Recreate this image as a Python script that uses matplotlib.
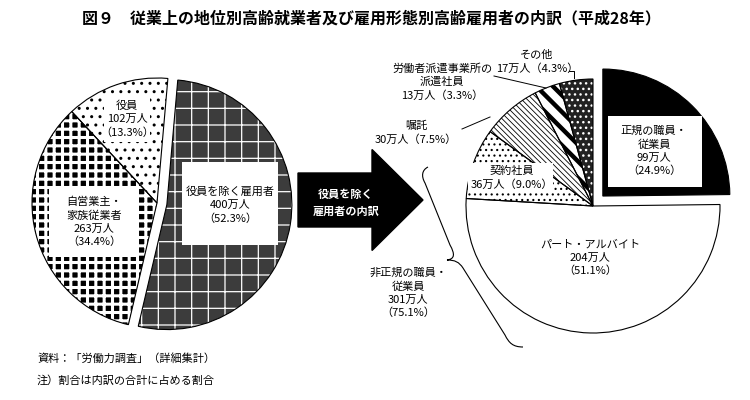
import matplotlib
matplotlib.use('Agg')
import matplotlib.pyplot as plt
from matplotlib.patches import Wedge, Rectangle, FancyArrow, PathPatch
from matplotlib.path import Path

plt.rcParams['font.family'] = ['Noto Sans CJK JP', 'DejaVu Sans']

# 従業上の地位別高齢就業者（万人, %）
status_labels = ['役員を除く雇用者', '自営業主・\n家族従業者', '役員']
status_values = [400, 263, 102]
status_pcts = [52.3, 34.4, 13.3]

# 雇用形態別高齢雇用者（万人, %）
emp_labels = ['正規の職員・\n従業員', 'パート・アルバイト', '契約社員', '嘱託',
              '労働者派遣事業所の\n派遣社員', 'その他']
emp_values = [99, 204, 36, 30, 13, 17]
emp_pcts = [24.9, 51.1, 9.0, 7.5, 3.3, 4.3]

nonreg_label = '非正規の職員・\n従業員'
nonreg_value = 301
nonreg_pct = 75.1

H = 400  # picture height, text positions below are given top-down


def Y(v):
    return H - v


fig = plt.figure(figsize=(7.5, 4), dpi=100)
ax = fig.add_axes([0, 0, 1, 1])


def restyle(w, face, hatch=None, hcolor='black', hlw=1.0):
    w.set_facecolor(face)
    if hatch:
        w.set_hatch(hatch)
        w.set_edgecolor(hcolor)
        if hasattr(w, 'set_hatch_linewidth'):
            w.set_hatch_linewidth(hlw)
    else:
        w.set_edgecolor('none')
    w.set_linewidth(0)
    ax.add_patch(Wedge(w.center, w.r, w.theta1, w.theta2, fill=False,
                       edgecolor='black', linewidth=0.8, zorder=2))


# left pie
left, _ = ax.pie(status_values, center=(157, Y(203)), radius=125, startangle=85,
                 counterclock=False, explode=[10, 0, 0])
restyle(left[0], '#3c3c3c', '+', 'white', 0.9)
restyle(left[1], 'black', '++', 'white', 2.2)
restyle(left[2], 'white', '..', 'black', 1.0)

# right pie
right, _ = ax.pie(emp_values, center=(593, Y(206)), radius=127, startangle=90,
                  counterclock=False, explode=[14, 0, 0, 0, 0, 0])
restyle(right[0], 'black')
restyle(right[1], 'white')
restyle(right[2], 'white', '...', 'black', 0.8)
restyle(right[3], 'white', '\\\\\\\\\\\\', 'black', 0.6)
restyle(right[4], 'white', '\\\\', 'black', 3.2)
restyle(right[5], '#222222', '...', 'white', 1.0)

ax.set_xlim(0, 750)
ax.set_ylim(0, H)
ax.axis('off')


def box(x0, y0, x1, y1):
    ax.add_patch(Rectangle((x0, Y(y1)), x1 - x0, y1 - y0, facecolor='white',
                           edgecolor='none', zorder=3))


def label(x, y, s, **kw):
    ax.text(x, Y(y), s, ha='center', va='center', fontsize=8, linespacing=1.35,
            zorder=4, **kw)


def amount(v, p, sep='\n'):
    return f'{v}万人{sep}（{p:.1f}%）'


# left pie labels
box(182, 162, 278, 245)
label(230, 205, status_labels[0] + '\n' + amount(status_values[0], status_pcts[0]))
box(49, 187, 138, 257)
label(94, 222, status_labels[1] + '\n' + amount(status_values[1], status_pcts[1]))
box(104, 96, 150, 142)
label(127, 119, status_labels[2] + '\n' + amount(status_values[2], status_pcts[2]))

# right pie labels
box(608, 116, 702, 187)
label(654, 151, emp_labels[0] + '\n' + amount(emp_values[0], emp_pcts[0]))
label(590, 258, emp_labels[1] + '\n' + amount(emp_values[1], emp_pcts[1]))
box(468, 163, 553, 193)
label(512, 178, emp_labels[2] + '\n' + amount(emp_values[2], emp_pcts[2], ''))
label(416, 133, emp_labels[3] + '\n' + amount(emp_values[3], emp_pcts[3], ''))
label(442, 82, emp_labels[4] + '\n' + amount(emp_values[4], emp_pcts[4], ''))
label(537, 62, emp_labels[5] + '\n' + amount(emp_values[5], emp_pcts[5], ''))
label(408, 293, nonreg_label + '\n' + amount(nonreg_value, nonreg_pct))

# leader lines
ax.plot([462, 490], [Y(129), Y(117)], color='black', lw=0.7)
ax.plot([494, 546], [Y(76), Y(88)], color='black', lw=0.7)
ax.plot([569, 574, 574], [Y(71), Y(71), Y(78)], color='black', lw=0.7)

# brace for 非正規
verts = [(428, 167), (422, 170), (421, 176), (425, 183),
         (450, 245), (455, 254), (455, 259), (447, 260),
         (455, 260), (459, 262), (463, 268),
         (505, 335), (509, 343), (513, 347), (523, 347)]
codes = [Path.MOVETO, Path.CURVE4, Path.CURVE4, Path.CURVE4,
         Path.LINETO, Path.CURVE4, Path.CURVE4, Path.CURVE4,
         Path.CURVE4, Path.CURVE4, Path.CURVE4,
         Path.LINETO, Path.CURVE4, Path.CURVE4, Path.CURVE4]
brace = Path([(x, Y(y)) for x, y in verts], codes)
ax.add_patch(PathPatch(brace, fill=False, edgecolor='black', lw=0.8))

# arrow
ax.add_patch(FancyArrow(298, Y(200), 125, 0, width=54, head_width=101,
                        head_length=51, length_includes_head=True,
                        color='black', zorder=3))
ax.text(346, Y(203), '役員を除く\n雇用者の内訳', color='white', fontsize=8,
        fontweight='bold', ha='center', va='center', linespacing=1.4, zorder=4)

# title and notes
fig.text(0.495, 1 - 18 / H, '図９　従業上の地位別高齢就業者及び雇用形態別高齢雇用者の内訳（平成28年）',
         ha='center', va='center', fontsize=11.5, fontweight='bold')
fig.text(37 / 750, 1 - 358 / H, '資料：「労働力調査」（詳細集計）', fontsize=8, va='center')
fig.text(37 / 750, 1 - 380 / H, '注）割合は内訳の合計に占める割合', fontsize=8, va='center')

fig.savefig('out.png', dpi=100)
